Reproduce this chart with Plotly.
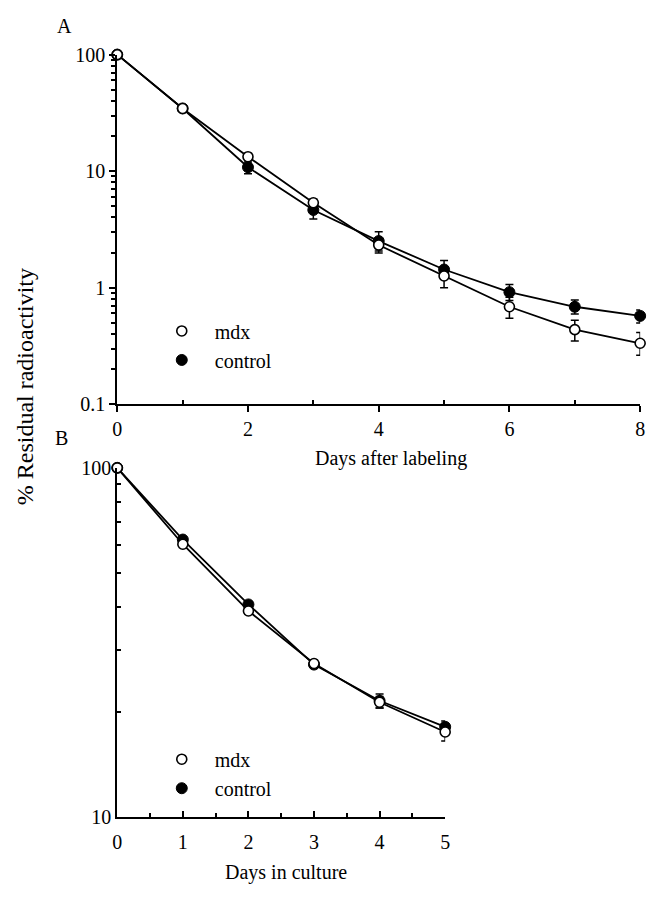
import plotly.graph_objects as go

# Panel A: days after labeling
days_a = [0, 1, 2, 3, 4, 5, 6, 7, 8]
mdx_a = [100, 34.5, 13.3, 5.35, 2.32, 1.26, 0.685, 0.436, 0.333]
mdx_a_up = [0, 1.0, 0.6, 0.4, 0.3, 0.25, 0.14, 0.09, 0.08]
mdx_a_dn = [0, 1.0, 0.6, 0.4, 0.34, 0.26, 0.14, 0.087, 0.07]
control_a = [100, 34.5, 10.8, 4.64, 2.51, 1.43, 0.914, 0.685, 0.572]
control_a_up = [0, 1.0, 1.2, 0.75, 0.5, 0.28, 0.15, 0.1, 0.07]
control_a_dn = [0, 1.0, 1.3, 0.76, 0.45, 0.25, 0.14, 0.09, 0.075]

# Panel B: days in culture
days_b = [0, 1, 2, 3, 4, 5]
mdx_b = [100, 60.4, 38.9, 27.5, 21.3, 17.5]
mdx_b_err = [0, 0.8, 0.8, 0.6, 0.8, 1.0]
control_b = [100, 62.3, 40.6, 27.3, 21.5, 18.1]
control_b_err = [0, 0.8, 0.8, 0.6, 1.0, 0.7]

W, H = 655, 899
FONT = "Liberation Serif"


def px(x):
    return x / W


def py(y):
    return 1 - y / H


def err(up, dn=None):
    return dict(type="data", array=up, arrayminus=dn if dn is not None else up,
                symmetric=False, color="black", thickness=1.5, width=4)


open_marker = dict(symbol="circle", size=10, color="white", line=dict(color="black", width=1.6))
filled_marker = dict(symbol="circle", size=11, color="black", line=dict(color="black", width=1))
line_style = dict(color="black", width=1.8)

fig = go.Figure()

# panel A
fig.add_trace(go.Scatter(x=days_a, y=control_a, mode="lines+markers", line=line_style,
                         marker=filled_marker, error_y=err(control_a_up, control_a_dn),
                         showlegend=False, cliponaxis=False, xaxis="x", yaxis="y"))
fig.add_trace(go.Scatter(x=days_a, y=mdx_a, mode="lines+markers", line=line_style,
                         marker=open_marker, error_y=err(mdx_a_up, mdx_a_dn),
                         showlegend=False, cliponaxis=False, xaxis="x", yaxis="y"))
# panel B
fig.add_trace(go.Scatter(x=days_b, y=control_b, mode="lines+markers", line=line_style,
                         marker=filled_marker, error_y=err(control_b_err),
                         showlegend=False, cliponaxis=False, xaxis="x2", yaxis="y2"))
fig.add_trace(go.Scatter(x=days_b, y=mdx_b, mode="lines+markers", line=line_style,
                         marker=open_marker, error_y=err(mdx_b_err),
                         showlegend=False, cliponaxis=False, xaxis="x2", yaxis="y2"))

# legend entries (markers only)
for lg, xa, ya in [("legend", "x", "y"), ("legend2", "x2", "y2")]:
    fig.add_trace(go.Scatter(x=[None], y=[None], mode="markers", marker=open_marker,
                             name="mdx", legend=lg, xaxis=xa, yaxis=ya))
    fig.add_trace(go.Scatter(x=[None], y=[None], mode="markers", marker=filled_marker,
                             name="control", legend=lg, xaxis=xa, yaxis=ya))

axis_common = dict(showline=True, linecolor="black", linewidth=2, showgrid=False,
                   zeroline=False, tickcolor="black", tickwidth=1.5,
                   tickfont=dict(size=20, color="black", family=FONT))

minor_log = [m * 10 ** k for k in range(-1, 2) for m in range(2, 10)]
legend_style = dict(xanchor="left", yanchor="top", bgcolor="rgba(0,0,0,0)",
                    font=dict(size=20, family=FONT, color="black"), itemwidth=56)

fig.update_layout(
    width=W, height=H,
    margin=dict(l=0, r=0, t=0, b=0),
    paper_bgcolor="white", plot_bgcolor="white",
    font=dict(family=FONT, size=20, color="black"),
    xaxis=dict(domain=[px(114), px(645)], range=[0, 8], anchor="y",
               tickmode="array", tickvals=[0, 2, 4, 6, 8], ticks="outside", ticklen=6,
               minor=dict(tickvals=[1, 3, 5, 7], ticks="inside", ticklen=4,
                          tickcolor="black", tickwidth=1.5),
               **axis_common),
    yaxis=dict(domain=[py(403), py(44.7)], type="log", range=[-1, 2], anchor="x",
               tickmode="array", tickvals=[0.1, 1, 10, 100], ticktext=["0.1", "1", "10", "100"],
               ticks="outside", ticklen=6,
               minor=dict(tickvals=minor_log, ticks="outside", ticklen=4,
                          tickcolor="black", tickwidth=1.5),
               **axis_common),
    xaxis2=dict(domain=[px(114), px(447)], range=[0, 5], anchor="y2",
                tickmode="array", tickvals=[0, 1, 2, 3, 4, 5], ticks="inside", ticklen=6,
                ticklabelstandoff=6,
                minor=dict(tickvals=[0.5, 1.5, 2.5, 3.5, 4.5], ticks="inside", ticklen=4,
                           tickcolor="black", tickwidth=1.5),
                **axis_common),
    yaxis2=dict(domain=[py(826), py(468.3)], type="log", range=[1, 2], anchor="x2",
                tickmode="array", tickvals=[10, 100], ticktext=["10", "100"],
                ticks="inside", ticklen=6,
                minor=dict(tickvals=[20, 30, 40, 50, 60, 70, 80, 90], ticks="inside", ticklen=4,
                           tickcolor="black", tickwidth=1.5),
                **axis_common),
    legend=dict(x=px(146), y=py(308), **legend_style),
    legend2=dict(x=px(146), y=py(747), **legend_style),
    annotations=[
        dict(text="A", x=px(60), y=py(15), xref="paper", yref="paper", showarrow=False,
             xanchor="center", yanchor="middle", font=dict(size=20)),
        dict(text="B", x=px(57), y=py(438), xref="paper", yref="paper", showarrow=False,
             xanchor="center", yanchor="middle", font=dict(size=20)),
        dict(text="% Residual radioactivity", x=px(20), y=py(385), xref="paper", yref="paper",
             showarrow=False, textangle=-90, xanchor="center", yanchor="middle",
             font=dict(size=24)),
        dict(text="Days after labeling", x=px(392), y=py(459), xref="paper", yref="paper",
             showarrow=False, xanchor="center", yanchor="middle", font=dict(size=20)),
        dict(text="Days in culture", x=px(285), y=py(883), xref="paper", yref="paper",
             showarrow=False, xanchor="center", yanchor="middle", font=dict(size=20)),
    ],
)

# the page body has a default margin; remove it so the figure fills the window exactly
fig.write_html("out.html", config={"displayModeBar": False},
               post_script="document.body.style.margin='0';"
                           "document.body.style.overflow='hidden';")
